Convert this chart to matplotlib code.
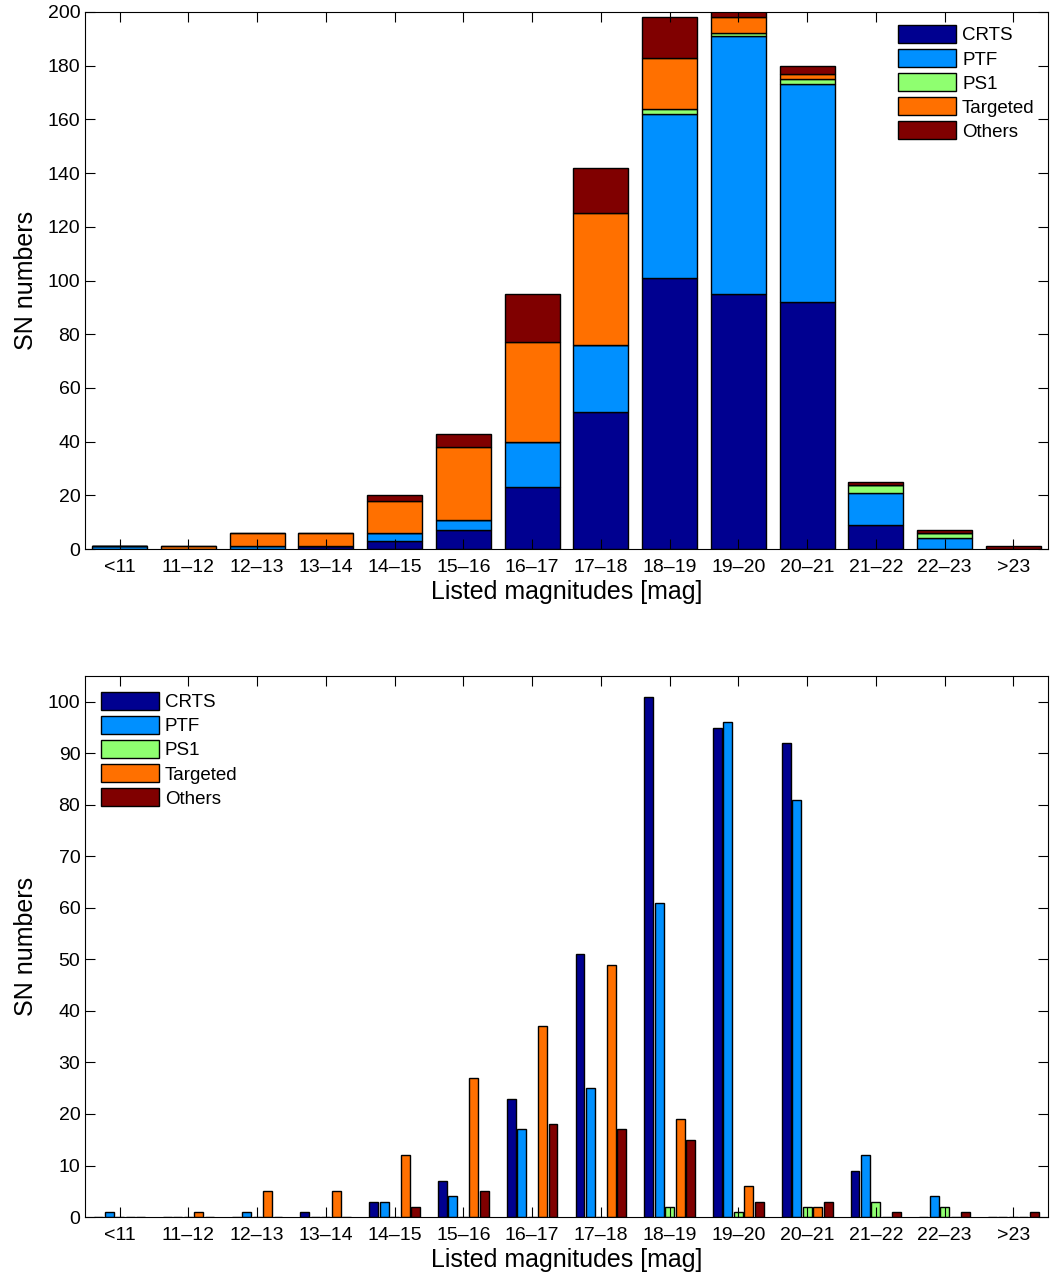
# SN numbers per listed magnitude bin, stacked and grouped
import matplotlib.pyplot as plt
import numpy as np

plt.rcParams['font.family'] = ['Liberation Sans', 'DejaVu Sans']

bins = ['<11', '11\u201312', '12\u201313', '13\u201314', '14\u201315', '15\u201316',
        '16\u201317', '17\u201318', '18\u201319', '19\u201320', '20\u201321',
        '21\u201322', '22\u201323', '>23']
crts = [0, 0, 0, 1, 3, 7, 23, 51, 101, 95, 92, 9, 0, 0]
ptf = [1, 0, 1, 0, 3, 4, 17, 25, 61, 96, 81, 12, 4, 0]
ps1 = [0, 0, 0, 0, 0, 0, 0, 0, 2, 1, 2, 3, 2, 0]
targeted = [0, 1, 5, 5, 12, 27, 37, 49, 19, 6, 2, 0, 0, 0]
others = [0, 0, 0, 0, 2, 5, 18, 17, 15, 3, 3, 1, 1, 1]

names = ['CRTS', 'PTF', 'PS1', 'Targeted', 'Others']
series = [crts, ptf, ps1, targeted, others]
colors = ['#000090', '#0090FF', '#8FFF70', '#FF7000', '#800000']

x = np.arange(1, len(bins) + 1)

fig = plt.figure(figsize=(10.52, 12.76), dpi=100)
ax1 = fig.add_axes([0.081, 0.5697, 0.915, 0.4209])
ax2 = fig.add_axes([0.081, 0.0462, 0.915, 0.424])

# stacked
bottom = np.zeros(len(bins))
for name, vals, c in zip(names, series, colors):
    ax1.bar(x, vals, 0.8, bottom=bottom, color=c, edgecolor='black',
            linewidth=1, label=name)
    bottom += np.array(vals)

# grouped
n = len(series)
w = 0.13
step = 0.152
for i, (name, vals, c) in enumerate(zip(names, series, colors)):
    ax2.bar(x + (i - (n - 1) / 2) * step, vals, w, color=c,
            edgecolor='black', linewidth=1, label=name)

for ax, ymax, yt in [(ax1, 200, np.arange(0, 201, 20)),
                     (ax2, 105, np.arange(0, 101, 10))]:
    ax.set_xlim(0.5, 14.5)
    ax.set_ylim(0, ymax)
    ax.set_xticks(x)
    ax.set_xticklabels(bins)
    ax.set_yticks(yt)
    ax.tick_params(direction='in', top=True, right=True, labelsize=14,
                   length=7, width=0.8)
    ax.tick_params(axis='x', pad=7)
    ax.set_xlabel('Listed magnitudes [mag]', fontsize=18, labelpad=3)
    ax.set_ylabel('SN numbers', fontsize=18, labelpad=7)

ax1.legend(loc='upper right', frameon=False, fontsize=13.5,
           handlelength=3.1, handleheight=1.1, labelspacing=0.25,
           handletextpad=0.3, borderaxespad=0.3)
ax2.legend(loc='upper left', frameon=False, fontsize=13.5,
           handlelength=3.1, handleheight=1.1, labelspacing=0.25,
           handletextpad=0.3, borderaxespad=0.45)

plt.savefig('out.png', dpi=100)
